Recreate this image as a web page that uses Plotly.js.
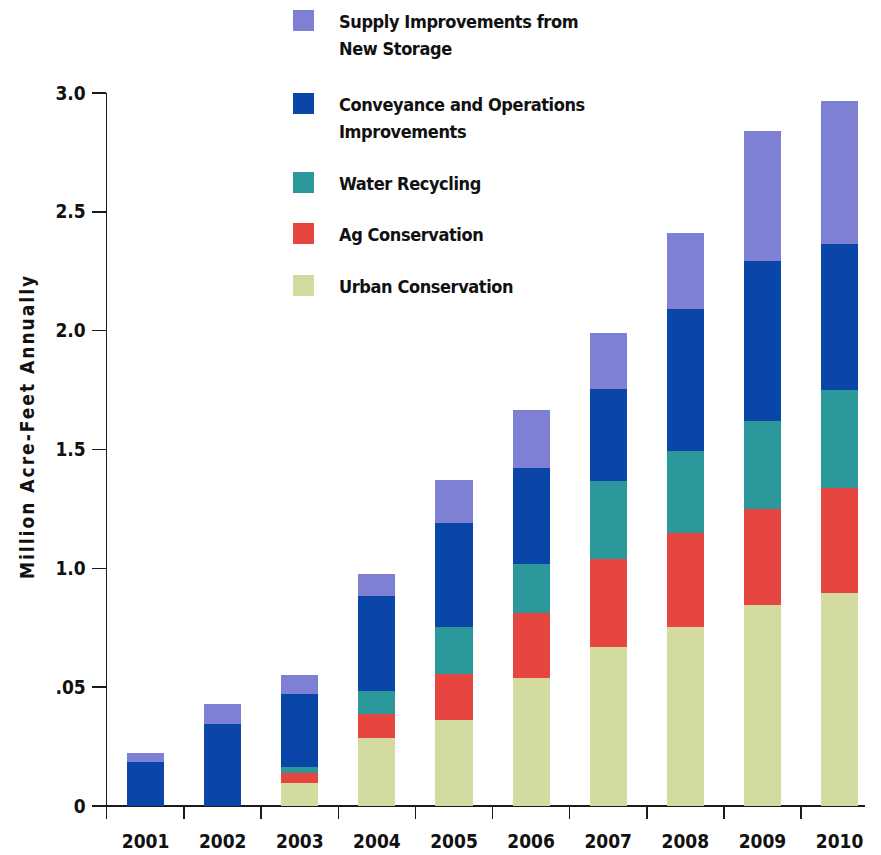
<!DOCTYPE html>
<html>
<head>
<meta charset="utf-8">
<script src="https://cdn.plot.ly/plotly-3.0.1.min.js"></script>
<style>
  html, body { margin: 0; padding: 0; background: #ffffff; }
  #chart { width: 881px; height: 855px; }
</style>
</head>
<body>
<div id="chart"></div>
<script>
// Years shown on the category axis
const years = ['2001', '2002', '2003', '2004', '2005', '2006', '2007', '2008', '2009', '2010'];

// Million acre-feet per year, stacked from the bottom up
const urbanConservation = [0, 0, 0.095, 0.285, 0.361, 0.538, 0.667, 0.754, 0.845, 0.897];
const agConservation    = [0, 0, 0.042, 0.102, 0.196, 0.272, 0.370, 0.393, 0.404, 0.439];
const waterRecycling    = [0, 0, 0.028, 0.097, 0.198, 0.209, 0.331, 0.347, 0.371, 0.413];
const conveyanceOps     = [0.186, 0.345, 0.306, 0.401, 0.435, 0.402, 0.388, 0.595, 0.673, 0.614];
const newStorage        = [0.038, 0.084, 0.080, 0.089, 0.182, 0.246, 0.234, 0.322, 0.546, 0.603];

// Y axis ticks and their printed labels
const yTickValues = [0, 0.5, 1.0, 1.5, 2.0, 2.5, 3.0];
const yTickLabels = ['0', '.05', '1.0', '1.5', '2.0', '2.5', '3.0'];

// Series names and colours (legend order, top to bottom)
const seriesNames = [
  'Supply Improvements from<br>New Storage',
  'Conveyance and Operations<br>Improvements',
  'Water Recycling',
  'Ag Conservation',
  'Urban Conservation'
];
const seriesColors = ['#7e80d4', '#0a46a8', '#2b999b', '#e6463f', '#d3dba0'];
const seriesValues = [newStorage, conveyanceOps, waterRecycling, agConservation, urbanConservation];

const FONT = '"Liberation Sans Narrow", "Arial Narrow", "DejaVu Sans Condensed", sans-serif';
const INK = '#111111';

// Plot-area geometry in pixels
const M = { l: 107, r: 16, t: 93, b: 36 };
const W = 881, H = 855;
const plotW = W - M.l - M.r, plotH = H - M.t - M.b;
const px2x = px => (px - M.l) / plotW;
const px2y = py => (H - M.b - py) / plotH;

// Bars: draw bottom series first so the stack matches the legend order
const traces = [];
for (let i = seriesNames.length - 1; i >= 0; i--) {
  traces.push({
    type: 'bar',
    x: years,
    y: seriesValues[i],
    name: seriesNames[i].replace('<br>', ' '),
    marker: { color: seriesColors[i], line: { width: 0 } },
    hoverinfo: 'skip'
  });
}

// Legend: square swatch + bold label (one annotation per text line)
const legendTops = [10, 93, 172, 223, 275];
const swatch = 21;
const lineStep = 27;
const shapes = [];
const annotations = [];
seriesNames.forEach((name, i) => {
  const top = legendTops[i];
  shapes.push({
    type: 'rect', xref: 'paper', yref: 'paper',
    x0: px2x(293), x1: px2x(293 + swatch),
    y0: px2y(top + swatch), y1: px2y(top),
    fillcolor: seriesColors[i], line: { width: 0 }
  });
  name.split('<br>').forEach((line, k) => {
    annotations.push({
      xref: 'paper', yref: 'paper',
      x: px2x(337), y: px2y(top - 1 + k * lineStep),
      xanchor: 'left', yanchor: 'top', align: 'left',
      text: '<span style="letter-spacing:-0.4px">' + line + '</span>',
      showarrow: false,
      font: { family: FONT, size: 18, weight: 700, color: INK }
    });
  });
});

// Vertical axis title
annotations.push({
  xref: 'paper', yref: 'paper',
  x: px2x(27), y: px2y(427),
  xanchor: 'center', yanchor: 'middle',
  textangle: -90, showarrow: false,
  text: '<span style="letter-spacing:2px">Million Acre-Feet Annually</span>',
  font: { family: FONT, size: 19, weight: 700, color: INK }
});

const tickFont = { family: FONT, size: 19, weight: 700, color: INK };

const layout = {
  width: W, height: H,
  margin: M,
  paper_bgcolor: '#ffffff', plot_bgcolor: '#ffffff',
  barmode: 'stack',
  bargap: 0.52,
  showlegend: false,
  font: { family: FONT, size: 19, weight: 700, color: INK },
  xaxis: {
    type: 'category',
    range: [-0.5, 9.33],
    showgrid: false, showline: false, zeroline: false,
    ticks: 'inside', tickson: 'boundaries',
    ticklen: 12, tickwidth: 1.5, tickcolor: '#1a1a1a',
    ticklabelstandoff: 9,
    tickfont: tickFont
  },
  yaxis: {
    range: [-0.055, 3.0],
    tickvals: yTickValues, ticktext: yTickLabels,
    showgrid: false,
    showline: true, linecolor: '#1a1a1a', linewidth: 1.5,
    zeroline: true, zerolinecolor: '#1a1a1a', zerolinewidth: 1.5,
    ticks: 'outside', ticklen: 14, tickwidth: 1.5, tickcolor: '#1a1a1a',
    ticklabelstandoff: 2,
    tickfont: tickFont
  },
  shapes: shapes,
  annotations: annotations
};

Plotly.newPlot('chart', traces, layout, { displayModeBar: false, staticPlot: true });
</script>
</body>
</html>
